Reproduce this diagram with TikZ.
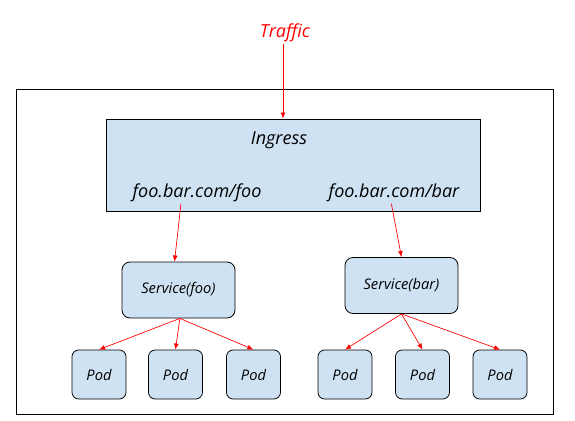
\documentclass[tikz,border=0pt]{standalone}
\usepackage{fontspec}
\setmainfont{Open Sans}
\usepackage{tikz}
\usetikzlibrary{arrows.meta,positioning}
\definecolor{boxfill}{HTML}{CFE2F3}
\definecolor{traffic}{HTML}{FF0000}

\begin{document}
\begin{tikzpicture}[x=0.75pt,y=-0.75pt,font=\itshape,
  b/.style={draw=black,fill=boxfill,line width=0.6pt,inner sep=0pt},
  svc/.style={b,rounded corners=6pt,minimum width=113*0.75pt,minimum height=56*0.75pt,font=\itshape\fontsize{11}{13}\selectfont},
  pod/.style={b,rounded corners=5pt,minimum width=54*0.75pt,minimum height=49*0.75pt,font=\itshape\fontsize{11}{13}\selectfont},
  t/.style={font=\itshape\fontsize{13.5}{16}\selectfont,inner sep=1pt},
  a/.style={-{Latex[length=1.6mm,width=1.3mm]},traffic,line width=0.5pt}]
\useasboundingbox (0,0) rectangle (575,421);

\node[t,text=traffic] (traf) at (285,33) {Traffic};
\draw[line width=0.6pt] (16,89) rectangle (553,414);

% ingress with its two host rules
\node[b,minimum width=374*0.75pt,minimum height=92*0.75pt] (ing) at (293,165) {};
\node[t] (ingl) at (279,140) {Ingress};
\node[t] (lfoo) at (197,193) {foo.bar.com/foo};
\node[t] (lbar) at (394,193) {foo.bar.com/bar};

\node[svc] (sfoo) at (178.5,290) {Service(foo)};
\node[svc] (sbar) at (401.5,285.5) {Service(bar)};

\node[pod] (pf1) at (99,374.5)  {Pod};
\node[pod] (pf2) at (175.5,374.5) {Pod};
\node[pod] (pf3) at (253.5,374.5) {Pod};
\node[pod] (pb1) at (345,374.5) {Pod};
\node[pod] (pb2) at (422.5,374.5) {Pod};
\node[pod] (pb3) at (500,374.5) {Pod};

\draw[a] ([xshift=-1.5pt]traf.south) -- ([xshift=-1.5pt]traf.south |- ing.north);
\draw[a] ([xshift=-12pt]lfoo.south) -- ([xshift=-3pt]sfoo.north);
\draw[a] ([xshift=-2pt]lbar.south) -- (sbar.north);

% services fan out to their pods
\foreach \p in {pf1,pf2,pf3}
  \draw[a] ([xshift=1pt]sfoo.south) -- (\p.north);
\foreach \p in {pb1,pb2,pb3}
  \draw[a] (sbar.south) -- (\p.north);
\end{tikzpicture}
\end{document}
